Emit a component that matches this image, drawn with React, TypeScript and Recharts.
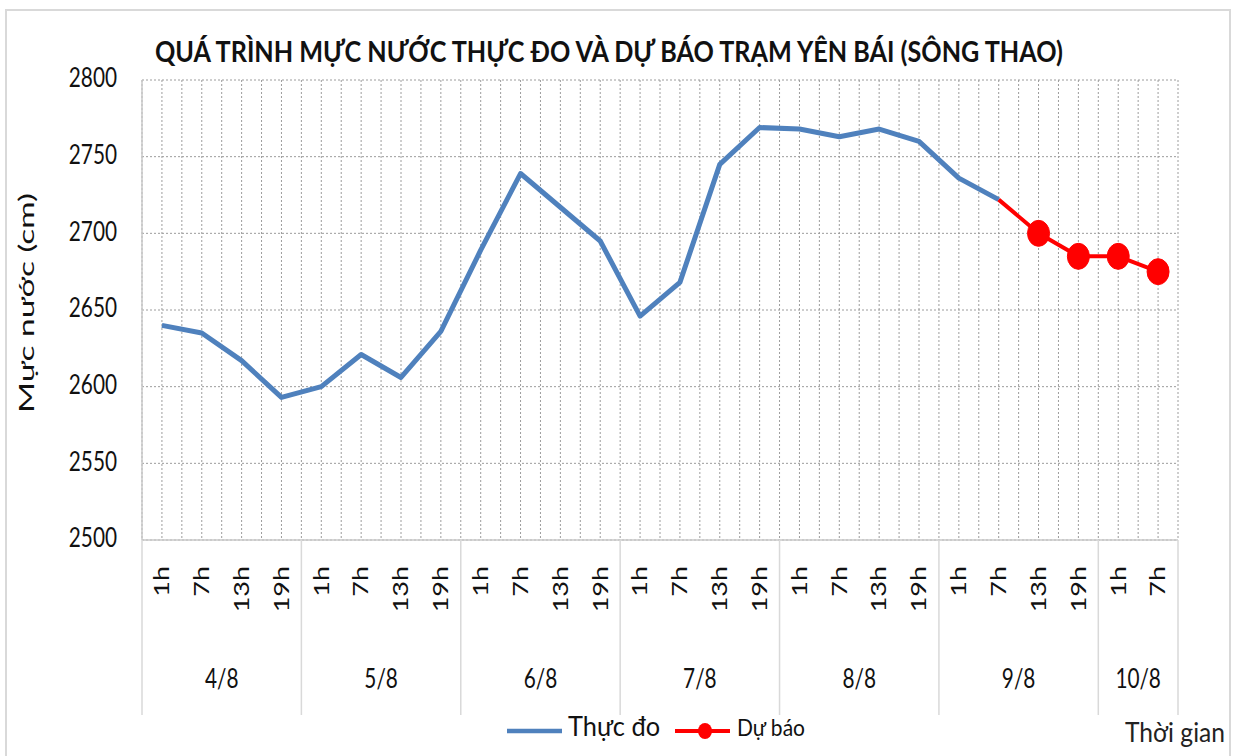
import React from 'react';
import { LineChart, Line, XAxis, YAxis, CartesianGrid } from 'recharts';

// ---- data ----
const hourLabels = [
  '1h', '7h', '13h', '19h',
  '1h', '7h', '13h', '19h',
  '1h', '7h', '13h', '19h',
  '1h', '7h', '13h', '19h',
  '1h', '7h', '13h', '19h',
  '1h', '7h', '13h', '19h',
  '1h', '7h',
];
const dateLabels = ['4/8', '5/8', '6/8', '7/8', '8/8', '9/8', '10/8'];
const dateSpans = [4, 4, 4, 4, 4, 4, 2];
const observed = [
  2640, 2635, 2617, 2593,
  2600, 2621, 2606, 2636,
  2689, 2739, 2717, 2695,
  2646, 2668, 2745, 2769,
  2768, 2763, 2768, 2760,
  2736, 2722,
];
const forecast: (number | null)[] = [
  null, null, null, null,
  null, null, null, null,
  null, null, null, null,
  null, null, null, null,
  null, null, null, null,
  null, 2722, 2700, 2685,
  2685, 2675,
];
const yTicks = [2500, 2550, 2600, 2650, 2700, 2750, 2800];

const data = hourLabels.map((h, i) => ({
  x: i + 0.5,
  hour: h,
  observed: i < observed.length ? observed[i] : null,
  forecast: forecast[i],
}));

// axis tick positions (category boundaries and centres)
const xTicks: number[] = [];
hourLabels.forEach((_, i) => {
  xTicks.push(i);
  xTicks.push(i + 0.5);
});
xTicks.push(hourLabels.length);

const boundaries: number[] = [0];
const groupCenters: number[] = [];
{
  let acc = 0;
  dateSpans.forEach((s) => {
    groupCenters.push(acc + s / 2);
    acc += s;
    boundaries.push(acc);
  });
}

const FONT = 'Lato, "Noto Sans", sans-serif';
const SX = 0.77;

const XTick = (props: any) => {
  const { x, y, payload } = props;
  const v = payload.value as number;
  const parts: React.ReactNode[] = [];
  if (Math.abs((v % 1) - 0.5) < 1e-6) {
    const idx = Math.floor(v);
    parts.push(
      <g key="h" transform={`translate(${x},${y + 26}) scale(${SX},1) rotate(-90)`}>
        <text x={0} y={0} dy="0.35em" textAnchor="end" fontFamily={FONT} fontSize={27} fill="#111">
          {hourLabels[idx]}
        </text>
      </g>
    );
  }
  if (boundaries.some((b) => Math.abs(b - v) < 1e-6)) {
    parts.push(<line key="b" x1={x} x2={x} y1={y} y2={y + 175} stroke="#d9d9d9" strokeWidth={1.5} />);
  }
  const ci = groupCenters.findIndex((c) => Math.abs(c - v) < 1e-6);
  if (ci >= 0) {
    parts.push(
      <g key="d" transform={`translate(${x},${y + 148}) scale(${SX},1)`}>
        <text x={0} y={0} textAnchor="middle" fontFamily={FONT} fontSize={27} fill="#111">
          {dateLabels[ci]}
        </text>
      </g>
    );
  }
  return <g>{parts}</g>;
};

const YTick = (props: any) => {
  const { x, y, payload } = props;
  return (
    <g transform={`translate(${x},${y - 2}) scale(${SX},1)`}>
      <text x={0} y={0} dy="0.35em" textAnchor="end" fontFamily={FONT} fontSize={27} fill="#111">
        {payload.value}
      </text>
    </g>
  );
};

const ForecastDot = (props: any) => {
  const { cx, cy, payload, index } = props;
  if (payload == null || payload.observed != null || cx == null || cy == null) {
    return <g key={`fd-${index}`} />;
  }
  return <ellipse key={`fd-${index}`} cx={cx} cy={cy} rx={11} ry={13} fill="#FF0000" stroke="#FF0000" />;
};

export default function App() {
  return (
    <div style={{ position: 'absolute', left: 0, top: 0, width: 1241, height: 756, background: '#fff', overflow: 'hidden' }}>
      <div
        style={{
          position: 'absolute',
          left: 5,
          top: 9,
          width: 1222,
          height: 760,
          borderTop: '2px solid #d9d9d9',
          borderLeft: '2px solid #d9d9d9',
          borderRight: '2px solid #d9d9d9',
        }}
      />
      <div style={{ position: 'absolute', left: 0, top: 0 }}>
        <LineChart
          width={1241}
          height={756}
          data={data}
          margin={{ top: 80, right: 63, bottom: 40, left: 62 }}
        >
          <CartesianGrid stroke="#9c9c9c" strokeDasharray="2 2" strokeWidth={1} />
          <XAxis
            dataKey="x"
            type="number"
            domain={[0, 26]}
            ticks={xTicks}
            interval={0}
            height={176}
            tickSize={0}
            tickMargin={0}
            tickLine={false}
            axisLine={{ stroke: '#c8c8c8', strokeWidth: 1.5 }}
            tick={<XTick />}
          />
          <YAxis
            type="number"
            domain={[2500, 2800]}
            ticks={yTicks}
            interval={0}
            width={80}
            tickSize={0}
            tickMargin={25}
            tickLine={false}
            axisLine={{ stroke: '#c8c8c8', strokeWidth: 1.5 }}
            tick={<YTick />}
          />
          <Line
            type="linear"
            dataKey="observed"
            stroke="#4F81BD"
            strokeWidth={5}
            dot={false}
            activeDot={false}
            strokeLinejoin="round"
            isAnimationActive={false}
            connectNulls={false}
          />
          <Line
            type="linear"
            dataKey="forecast"
            stroke="#FF0000"
            strokeWidth={4}
            dot={<ForecastDot />}
            activeDot={false}
            strokeLinejoin="round"
            isAnimationActive={false}
            connectNulls={false}
          />
        </LineChart>
      </div>
      <svg
        width={1241}
        height={756}
        style={{ position: 'absolute', left: 0, top: 0, pointerEvents: 'none' }}
      >
        <text x={155} y={62} fontFamily={FONT} fontWeight="bold" fontSize={29} fill="#111" textLength={908} lengthAdjust="spacingAndGlyphs">
          QUÁ TRÌNH MỰC NƯỚC THỰC ĐO VÀ DỰ BÁO TRẠM YÊN BÁI (SÔNG THAO)
        </text>
        <g transform="translate(34,413) rotate(-90)">
          <text x={0} y={0} fontFamily={FONT} fontSize={21} fill="#111" textLength={220} lengthAdjust="spacingAndGlyphs">
            Mực nước (cm)
          </text>
        </g>
        <line x1={507} x2={562} y1={731} y2={731} stroke="#4F81BD" strokeWidth={4.5} />
        <text x={568} y={736} fontFamily={FONT} fontSize={27} fill="#111" textLength={92} lengthAdjust="spacingAndGlyphs">
          Thực đo
        </text>
        <line x1={675} x2={730} y1={731} y2={731} stroke="#FF0000" strokeWidth={4} />
        <ellipse cx={705} cy={731} rx={7} ry={8} fill="#FF0000" />
        <text x={737} y={736} fontFamily={FONT} fontSize={23} fill="#111" textLength={68} lengthAdjust="spacingAndGlyphs">
          Dự báo
        </text>
        <text x={1125} y={742} fontFamily={FONT} fontSize={27} fill="#222" textLength={100} lengthAdjust="spacingAndGlyphs">
          Thời gian
        </text>
      </svg>
    </div>
  );
}
